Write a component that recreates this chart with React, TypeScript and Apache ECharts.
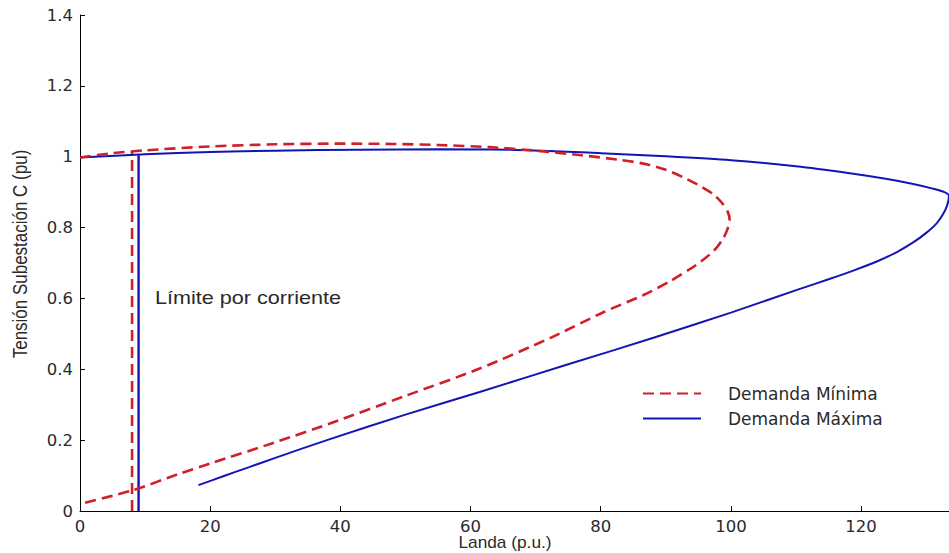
import React, { useEffect, useRef } from "react";
import * as echarts from "echarts";

// Demanda Mínima: upper branch (left -> nose) then lower branch (nose -> left)
const minDemandCurve: [number, number][] = [
  [0, 0.998], [5, 1.01], [10, 1.018], [20, 1.029], [30, 1.035], [40, 1.037],
  [48, 1.036], [55, 1.033], [63, 1.027], [70, 1.017], [77, 1.004], [83, 0.991],
  [87, 0.979], [90, 0.963], [93, 0.939], [95.5, 0.915], [97.3, 0.894],
  [98.7, 0.868], [99.5, 0.845], [99.8, 0.822], [99.4, 0.792], [98.6, 0.763],
  [97.3, 0.733], [94.7, 0.695], [90.6, 0.648], [86.5, 0.609], [80.4, 0.561],
  [72.2, 0.488], [61.4, 0.402], [50, 0.325], [38.4, 0.247], [30, 0.194],
  [20, 0.134], [15.4, 0.106], [8, 0.058], [0, 0.02],
];

// Demanda Máxima: upper branch (left -> nose) then lower branch (nose -> start)
const maxDemandCurve: [number, number][] = [
  [0, 0.998], [10, 1.007], [20, 1.013], [30, 1.017], [43, 1.02], [55, 1.021],
  [66, 1.02], [80, 1.01], [90, 1.001], [100, 0.99], [110, 0.973], [118, 0.954],
  [124, 0.937], [128, 0.923], [131, 0.91], [132.8, 0.9], [133.5, 0.889],
  [133.2, 0.862], [132.6, 0.838], [131.6, 0.812], [130, 0.785], [128, 0.758],
  [125.5, 0.731], [122.5, 0.705], [119, 0.68], [115, 0.654], [110.6, 0.627],
  [100, 0.56], [88.1, 0.489], [75, 0.414], [61.4, 0.336], [50, 0.272],
  [38.4, 0.203], [30, 0.15], [26, 0.124], [22, 0.098], [18.2, 0.073],
];

// Current limit vertical lines
const minLimitLine: [number, number][] = [[8, 0], [8, 1.013]];
const maxLimitLine: [number, number][] = [[9, 0], [9, 1.004]];

const seriesNames = ["Demanda Mínima", "Demanda Máxima"];
const xTitle = "Landa (p.u.)";
const yTitle = "Tensión Subestación C (pu)";
const annotation = "Límite por corriente";

const FONT = "Liberation Sans, Arial, sans-serif";
const TICK_FONT = "DejaVu Sans, sans-serif";
const RED = "#d21f26";
const BLUE = "#1414b4";
const TEXT = "#2a2a2a";

export default function App() {
  const ref = useRef<HTMLDivElement>(null);
  useEffect(() => {
    if (!ref.current) return;
    const chart = echarts.init(ref.current, undefined, { renderer: "svg" });
    chart.setOption({
      animation: false,
      backgroundColor: "#ffffff",
      grid: { left: 80, right: 0, top: 15, bottom: 42, containLabel: false },
      xAxis: {
        type: "value",
        min: 0,
        max: 133.5,
        interval: 20,
        splitLine: { show: false },
        axisLine: { show: true, onZero: false, lineStyle: { color: "#000", width: 1 } },
        axisTick: { show: true, inside: true, length: 5, lineStyle: { color: "#000" } },
        axisLabel: { showMaxLabel: false, margin: 7, fontSize: 16.5, color: TEXT, fontFamily: TICK_FONT },
      },
      yAxis: {
        type: "value",
        min: 0,
        max: 1.4,
        interval: 0.2,
        splitLine: { show: false },
        axisLine: { show: true, onZero: false, lineStyle: { color: "#000", width: 1 } },
        axisTick: { show: true, inside: true, length: 5, lineStyle: { color: "#000" } },
        axisLabel: { margin: 7, fontSize: 16.5, color: TEXT, fontFamily: TICK_FONT },
      },
      legend: {
        orient: "vertical",
        left: 637,
        top: 380,
        itemWidth: 58,
        itemHeight: 14,
        itemGap: 8,
        data: seriesNames,
        itemStyle: { opacity: 0 },
        textStyle: { fontSize: 17, color: TEXT, fontFamily: TICK_FONT, padding: [0, 0, 0, 22] },
      },
      series: [
        {
          name: seriesNames[0],
          type: "line",
          data: minDemandCurve,
          showSymbol: false,
          symbol: "none",
          smooth: 0.25,
          lineStyle: { color: RED, width: 2.6, type: [11, 6] },
          itemStyle: { color: RED },
          z: 3,
        },
        {
          name: seriesNames[1],
          type: "line",
          data: maxDemandCurve,
          showSymbol: false,
          symbol: "none",
          smooth: 0.25,
          lineStyle: { color: BLUE, width: 2, type: "solid" },
          itemStyle: { color: BLUE },
          z: 2,
        },
        {
          name: "limMin",
          type: "line",
          data: minLimitLine,
          symbol: "none",
          lineStyle: { color: RED, width: 2.6, type: [11, 6] },
          z: 3,
        },
        {
          name: "limMax",
          type: "line",
          data: maxLimitLine,
          symbol: "none",
          lineStyle: { color: BLUE, width: 2.4, type: "solid" },
          z: 2,
        },
      ],
      graphic: [
        {
          type: "text",
          x: 155,
          y: 298,
          scaleX: 1.2,
          style: { text: annotation, fontSize: 18, fill: TEXT, fontFamily: FONT, verticalAlign: "middle" },
        },
        {
          type: "text",
          x: 505,
          y: 543,
          scaleX: 1.08,
          style: { text: xTitle, fontSize: 16, fill: TEXT, fontFamily: FONT, align: "center", verticalAlign: "middle" },
        },
        {
          type: "text",
          x: 20,
          y: 254,
          rotation: Math.PI / 2,
          scaleY: 1.15,
          style: { text: yTitle, fontSize: 17, fill: TEXT, fontFamily: FONT, align: "center", verticalAlign: "middle" },
        },
      ],
    });
    return () => chart.dispose();
  }, []);
  return (
    <div
      ref={ref}
      style={{ position: "fixed", left: 0, top: 0, width: 949, height: 553, background: "#fff" }}
    />
  );
}
